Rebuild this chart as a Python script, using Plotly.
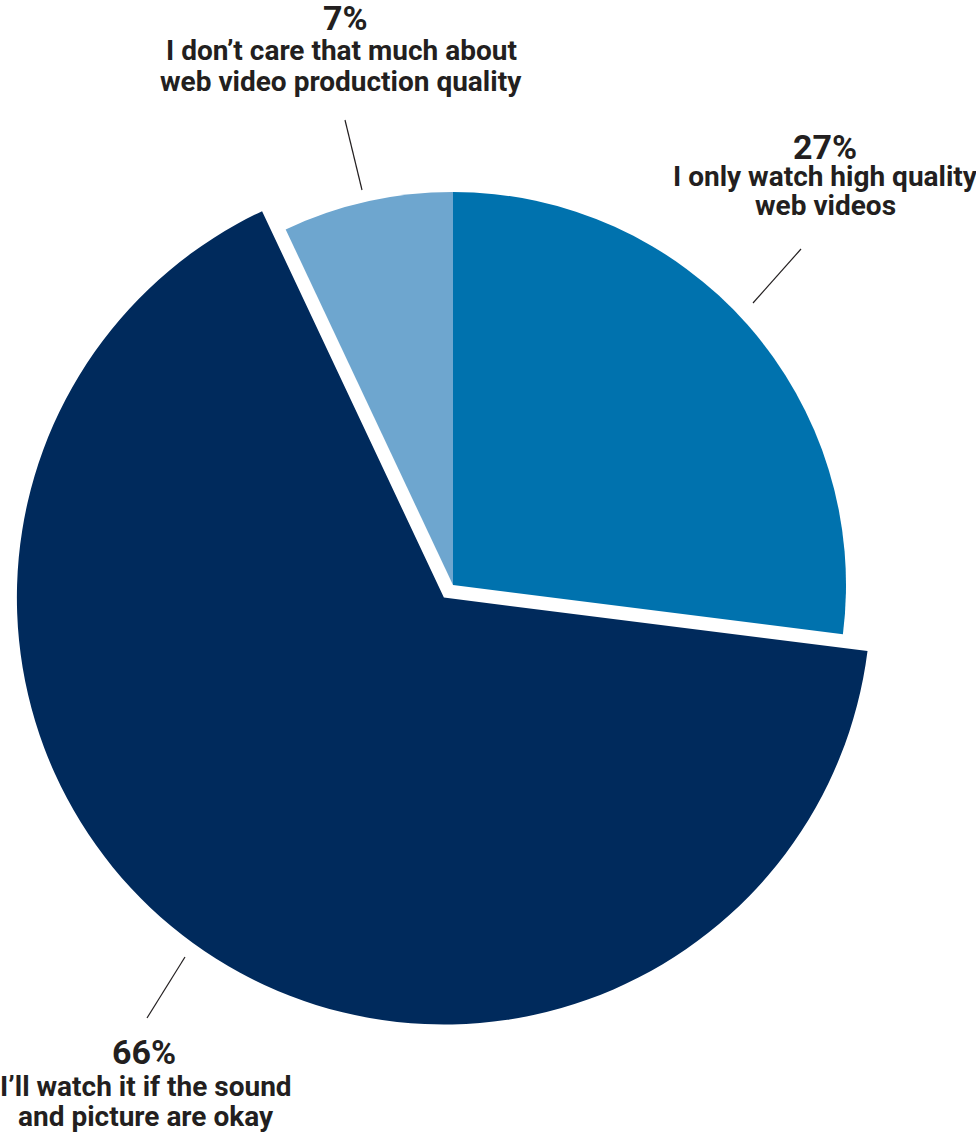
import plotly.graph_objects as go

# ---- data ----
categories = ["I only watch high quality web videos",
              "I’ll watch it if the sound and picture are okay",
              "I don’t care that much about web video production quality"]
values = [27, 66, 7]
pct_labels = ["27%", "66%", "7%"]
label_lines = [["I only watch high quality", "web videos"],
               ["I’ll watch it if the sound", "and picture are okay"],
               ["I don’t care that much about", "web video production quality"]]

colors = ["#0072AE", "#002A5C", "#6EA6CF"]
CLEAR = "rgba(0,0,0,0)"

# ---- layout geometry (pixels) ----
W, H = 976, 1137
cx, cy = 453, 585
r_small = 393
r_big = 427
pull_px = 15.5
pull_frac = pull_px / r_big


def dom(half):
    return dict(x=[(cx - half) / W, (cx + half) / W],
                y=[1 - (cy + half) / H, 1 - (cy - half) / H])


fig = go.Figure()
# large pulled-out slice
fig.add_trace(go.Pie(
    values=values, labels=categories, sort=False, direction="clockwise", rotation=0,
    marker=dict(colors=[CLEAR, colors[1], CLEAR], line=dict(width=0)),
    pull=[0, pull_frac, 0], textinfo="none", hoverinfo="label+percent",
    domain=dom(r_big * (1 + pull_frac)), showlegend=False))
# the two smaller slices
fig.add_trace(go.Pie(
    values=values, labels=categories, sort=False, direction="clockwise", rotation=0,
    marker=dict(colors=[colors[0], CLEAR, colors[2]], line=dict(width=0)),
    textinfo="none", hoverinfo="label+percent",
    domain=dom(r_small), showlegend=False))

TXT = "#231F20"
PCT_FONT = dict(family="Roboto, Liberation Sans, sans-serif", size=34, color=TXT)
BODY_FONT = dict(family="Roboto, Liberation Sans, sans-serif", size=28, color=TXT)

# label placement: (x center, pct middle y, line1 middle y, line2 middle y) in px
label_pos = [(825, 147, 177, 205),
             (146, 1052, 1086, 1116),
             (341, 18, 51, 81)]
pct_x_shift = [0, -2, 4]
leaders = [((801, 249), (753, 303)),
           ((185, 957), (147, 1018)),
           ((345, 120), (362, 190))]

annotations = []
for i in range(3):
    x, yp, y1, y2 = label_pos[i]
    annotations.append(dict(x=(x + pct_x_shift[i]) / W, y=1 - yp / H, xref="paper", yref="paper",
                            text="<b>%s</b>" % pct_labels[i], showarrow=False,
                            xanchor="center", yanchor="middle", font=PCT_FONT))
    for ln, yy in zip(label_lines[i], (y1, y2)):
        annotations.append(dict(x=x / W, y=1 - yy / H, xref="paper", yref="paper",
                                text="<b>%s</b>" % ln, showarrow=False,
                                xanchor="center", yanchor="middle", font=BODY_FONT))

shapes = []
for (x0, y0), (x1, y1) in leaders:
    shapes.append(dict(type="line", xref="paper", yref="paper",
                       x0=x0 / W, y0=1 - y0 / H, x1=x1 / W, y1=1 - y1 / H,
                       line=dict(color=TXT, width=1.2)))

fig.update_layout(width=W, height=H, margin=dict(l=0, r=0, t=0, b=0),
                  paper_bgcolor="white", plot_bgcolor="white",
                  annotations=annotations, shapes=shapes)

fig.write_html("out.html")
